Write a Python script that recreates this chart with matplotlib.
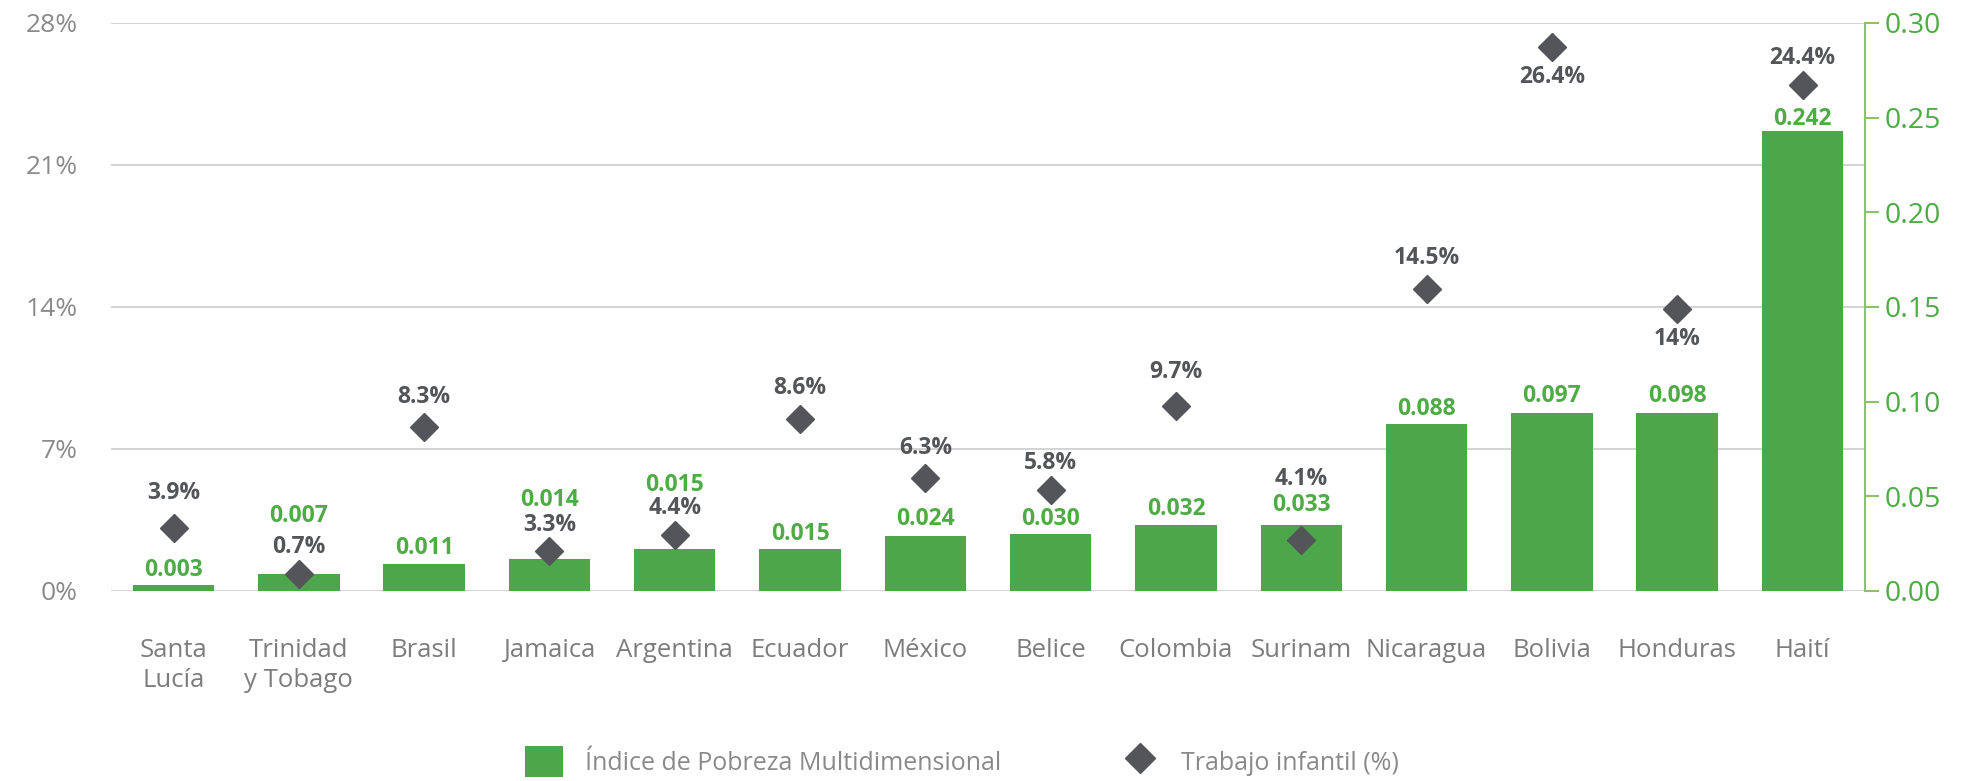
import matplotlib
matplotlib.use("Agg")
import matplotlib.pyplot as plt
from matplotlib.patches import Patch
from matplotlib.lines import Line2D
from matplotlib.ticker import FuncFormatter

plt.rcParams['font.family'] = ['Open Sans', 'DejaVu Sans']

# data
paises = ["Santa\nLucía", "Trinidad\ny Tobago", "Brasil", "Jamaica", "Argentina",
          "Ecuador", "México", "Belice", "Colombia", "Surinam", "Nicaragua",
          "Bolivia", "Honduras", "Haití"]
ipm = [0.003, 0.009, 0.014, 0.017, 0.022, 0.022, 0.029, 0.030, 0.035, 0.035,
       0.088, 0.094, 0.094, 0.243]
ipm_labels = ["0.003", "0.007", "0.011", "0.014", "0.015", "0.015", "0.024",
              "0.030", "0.032", "0.033", "0.088", "0.097", "0.098", "0.242"]
trabajo = [3.1, 0.85, 8.1, 1.95, 2.75, 8.5, 5.55, 5.0, 9.1, 2.5, 14.9, 26.8, 13.9, 24.95]
trabajo_labels = ["3.9%", "0.7%", "8.3%", "3.3%", "4.4%", "8.6%", "6.3%", "5.8%",
                  "9.7%", "4.1%", "14.5%", "26.4%", "14%", "24.4%"]

# label offsets in pixels (layout only)
off_ipm = [15, 58, 16, 59, 64, 15, 17, 15, 16, 20, 15, 17, 17, 12]
off_trab = [35, 27, 30, 26, 27, 31, 30, 27, 34, 61, 31, -30, -30, 27]

verde = "#4ca64a"
verde_txt = "#4fab45"
verde_eje = "#8cc26a"
gris_dia = "#545558"
gris_txt = "#8a8a8a"

fig = plt.figure(figsize=(19.8, 7.81), dpi=100)
rect = [0.056, 0.2433, 0.886, 0.7273]
ax1 = fig.add_axes(rect)
ax2 = ax1.twinx()
ax3 = fig.add_axes(rect, sharex=ax1, sharey=ax1)

x = list(range(len(paises)))

# left axis: gridlines and % labels
ax1.set_ylim(0, 28)
ax1.set_yticks([0, 7, 14, 21, 28])
ax1.yaxis.set_major_formatter(FuncFormatter(lambda v, p: f"{v:.0f}%"))
ax1.grid(axis='y', color="#cccccc", linewidth=1.2)
ax1.set_axisbelow(True)
for s in ax1.spines.values():
    s.set_visible(False)
ax1.tick_params(axis='y', length=0, pad=24, labelsize=19, labelcolor=gris_txt)
ax1.tick_params(axis='x', length=0, pad=34, labelsize=18.5, labelcolor="#7d7d7d")
ax1.set_xlim(-0.5, len(paises) - 0.5)
ax1.set_xticks(x)
ax1.set_xticklabels(paises)
for t in ax1.get_xticklabels():
    t.set_linespacing(1.25)

# right axis: bars
ax2.set_zorder(2)
ax2.patch.set_visible(False)
ax2.bar(x, ipm, width=0.65, color=verde, zorder=2)
ax2.set_ylim(0, 0.30)
ax2.set_yticks([0, 0.05, 0.10, 0.15, 0.20, 0.25, 0.30])
ax2.yaxis.set_major_formatter(FuncFormatter(lambda v, p: f"{v:.2f}"))
for k in ["top", "left", "bottom"]:
    ax2.spines[k].set_visible(False)
ax2.spines["right"].set_color(verde_eje)
ax2.spines["right"].set_linewidth(1.5)
ax2.tick_params(axis='y', colors=verde_eje, labelcolor=verde_txt, length=10,
                width=1.5, pad=4, labelsize=20.5)
for xi, v, lab, off in zip(x, ipm, ipm_labels, off_ipm):
    ax2.annotate(lab, (xi, v), xytext=(0, off), textcoords='offset pixels',
                 ha='center', va='center', color=verde_txt, fontsize=16.5,
                 fontweight='bold')

# top layer: diamonds on the % scale
ax3.set_zorder(3)
ax3.patch.set_visible(False)
ax3.axis('off')
ax3.plot(x, trabajo, linestyle='none', marker='D', markersize=14,
         color=gris_dia, zorder=3)
for xi, v, lab, off in zip(x, trabajo, trabajo_labels, off_trab):
    ax3.annotate(lab, (xi, v), xytext=(0, off), textcoords='offset pixels',
                 ha='center', va='center', color=gris_dia, fontsize=16.5,
                 fontweight='bold')

handles = [Patch(facecolor=verde, edgecolor='none'),
           Line2D([], [], linestyle='none', marker='D', markersize=15, color=gris_dia)]
fig.legend(handles, ["Índice de Pobreza Multidimensional", "Trabajo infantil (%)"],
           loc='center', bbox_to_anchor=(0.486, 0.025), ncol=2, frameon=False,
           fontsize=18, labelcolor=gris_txt, handlelength=1.5, handleheight=1.5,
           columnspacing=4.8, handletextpad=0.9)

fig.savefig("out.png", dpi=100)
